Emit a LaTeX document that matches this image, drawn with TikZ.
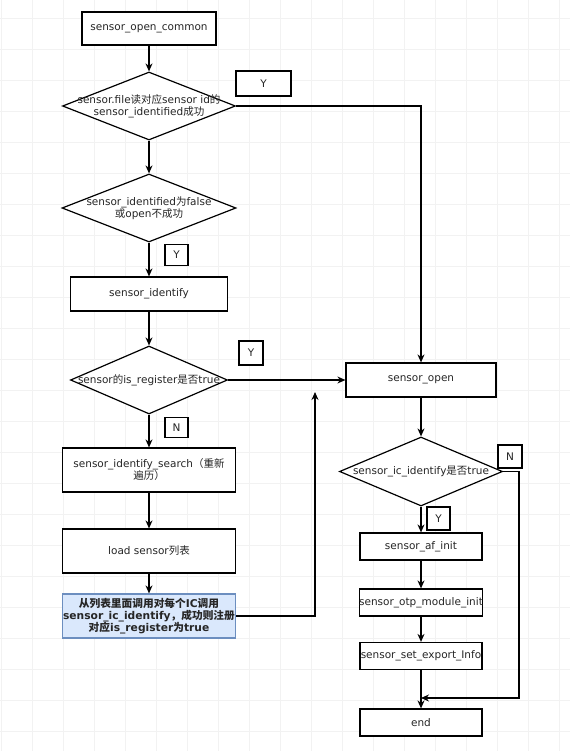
\documentclass[tikz,border=0pt]{standalone}
\usepackage{fontspec}
\setmainfont{DejaVu Sans}
\newfontfamily\cjk{Noto Sans CJK SC}
\usetikzlibrary{shapes.geometric,arrows.meta}
\definecolor{icfill}{HTML}{DAE8FC}
\definecolor{icdraw}{HTML}{6C8EBF}

\begin{document}
\begin{tikzpicture}[x=1pt, y=-1pt, line width=1.2pt, >={Stealth[length=8pt,width=7pt]},
  every node/.style={font=\fontsize{10.5}{12}\selectfont, text=black!85},
  box/.style={draw, fill=white, rectangle, inner sep=0pt, align=center},
  decision/.style={draw, fill=white, diamond, inner sep=0pt},
  tag/.style={draw, fill=white, rectangle, inner sep=0pt},
  gridline/.style={line width=0.6pt, black!5}]
\useasboundingbox (0,0) rectangle (570,751);
\fill[white] (0,0) rectangle (570,751);
\foreach \gx in {1,32,...,559} \draw[gridline] (\gx,0) -- (\gx,751);
\foreach \gy in {18,49,...,731} \draw[gridline] (0,\gy) -- (570,\gy);

\node (common) at (149, 28.5) [box, minimum width=134pt, minimum height=33pt] {sensor\_open\_common};
\node (d1) at (149, 106) [decision, minimum width=173pt, minimum height=68pt,
  label={[align=center]center:sensor.file{\cjk 读对应}sensor id{\cjk 的}\\sensor\_identified{\cjk 成功}}] {};
\node (y1) at (263.5, 83.5) [tag, minimum width=55pt, minimum height=25pt] {Y};

\node (d2) at (149, 208) [decision, minimum width=174pt, minimum height=68pt,
  label={[align=center]center:sensor\_identified{\cjk 为}false\\{\cjk 或}open{\cjk 不成功}}] {};
\node (y2) at (176.5, 255) [tag, minimum width=23pt, minimum height=21pt] {Y};

\node (identify) at (149, 294) [box, minimum width=157pt, minimum height=34pt] {sensor\_identify};
\node (d3) at (149, 380) [decision, minimum width=157pt, minimum height=68pt,
  label={center:sensor{\cjk 的}is\_register{\cjk 是否}true}] {};
\node (y3) at (251, 353) [tag, minimum width=24pt, minimum height=24pt] {Y};
\node (n3) at (176.5, 427.5) [tag, minimum width=23pt, minimum height=20pt] {N};

\node (search) at (149, 470) [box, minimum width=173pt, minimum height=44pt] {sensor\_identify\_search{\cjk （重新}\\{\cjk 遍历）}};
\node (load) at (149, 551) [box, minimum width=173pt, minimum height=44pt] {load sensor{\cjk 列表}};
\node (ic) at (149, 616) [box, draw=icdraw, fill=icfill, minimum width=173pt, minimum height=44pt, font=\fontsize{10.7}{12.3}\selectfont\bfseries]
  {{\cjk 从列表里面调用对每个}IC{\cjk 调用}\\sensor\_ic\_identify{\cjk ，成功则注册}\\{\cjk 对应}is\_register{\cjk 为}true};
\coordinate (up) at (315, 392);

\node (open) at (421, 380) [box, minimum width=150pt, minimum height=34pt] {sensor\_open};
\node (d4) at (421, 471.5) [decision, minimum width=163pt, minimum height=69pt,
  label={center:sensor\_ic\_identify{\cjk 是否}true}] {};
\node (n4) at (510, 456.5) [tag, minimum width=24pt, minimum height=23pt] {N};
\node (y4) at (438.5, 518.5) [tag, minimum width=23pt, minimum height=23pt] {Y};

\node (af) at (421, 546.5) [box, minimum width=122pt, minimum height=27pt] {sensor\_af\_init};
\node (otp) at (421, 602.5) [box, minimum width=122pt, minimum height=27pt] {sensor\_otp\_module\_init};
\node (export) at (421, 656) [box, minimum width=122pt, minimum height=27pt] {sensor\_set\_export\_Info};
\node (endbox) at (421, 722.5) [box, minimum width=122pt, minimum height=27pt] {end};
\coordinate (nright) at (519, 698);
\coordinate (join) at (421, 698);

\draw[->] (common) -- (d1);
\draw[->] (d1) -- (d2);
\draw[->] (d2) -- (identify);
\draw[->] (identify) -- (d3);
\draw[->] (d3) -- (search);
\draw[->] (search) -- (load);
\draw[->] (load) -- (ic);

\draw[->] (d1.east) -| (open.north);
\draw[->] (d3.east) -- (open.west);
\draw[->] (ic.east) -| (up);

\draw[->] (open) -- (d4);
\draw[->] (d4) -- (af);
\draw[->] (af) -- (otp);
\draw[->] (otp) -- (export);
\draw[->] (export) -- (endbox);
\draw[->] (d4.east) -| (nright) -- (join);
\end{tikzpicture}
\end{document}
